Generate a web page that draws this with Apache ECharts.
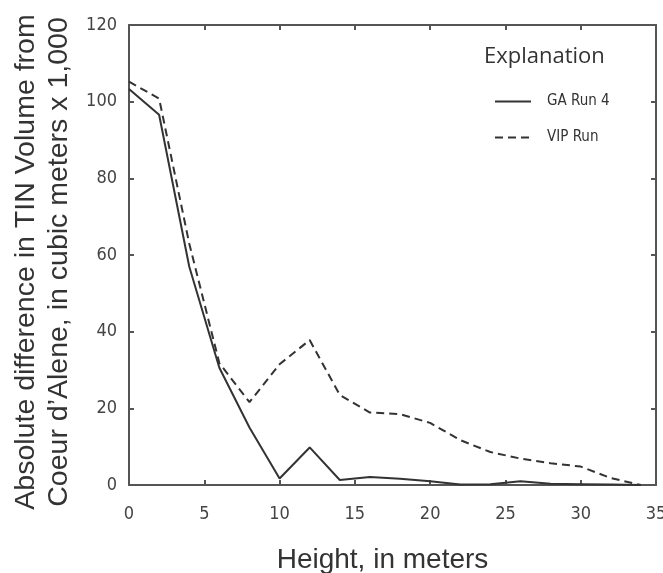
<!DOCTYPE html>
<html>
<head>
<meta charset="utf-8">
<script src="https://cdn.jsdelivr.net/npm/echarts@6/dist/echarts.min.js"></script>
<style>html,body{margin:0;padding:0;background:#fff}#c{width:663px;height:573px}</style>
</head>
<body>
<div id="c"></div>
<script>
var heights = [0, 2, 4, 6, 8, 10, 12, 14, 16, 18, 20, 22, 24, 26, 28, 30, 32, 34];
var gaRun4 = [103.3, 96.6, 57, 30.6, 15, 1.7, 9.8, 1.3, 2.1, 1.6, 1.0, 0.1, 0.2, 1.0, 0.3, 0.2, 0.1, 0];
var vipRun = [105.2, 100.8, 63, 31.8, 21.6, 31.5, 37.8, 23.5, 18.9, 18.5, 16.2, 11.7, 8.6, 6.9, 5.7, 4.8, 1.8, 0];
var seriesNames = ['GA Run 4', 'VIP Run'];
var xTicks = [0, 5, 10, 15, 20, 25, 30, 35];
var yTicks = [0, 20, 40, 60, 80, 100, 120];

var narrow = "'Liberation Sans Narrow', 'DejaVu Sans Condensed', 'Liberation Sans', sans-serif";
var sans = "'Liberation Sans', Arial, sans-serif";

function pairs(xs, ys) { return xs.map(function (x, i) { return [x, ys[i]]; }); }

var chart = echarts.init(document.getElementById('c'), null, {renderer: 'canvas'});
var axisLine = {show: true, onZero: false, lineStyle: {color: '#555', width: 2}};
var tick = {show: true, inside: true, length: 5, lineStyle: {color: '#555', width: 2}};

chart.setOption({
  animation: false,
  backgroundColor: '#fff',
  grid: {left: 129, top: 25, right: 7, bottom: 88, containLabel: false, outerBoundsMode: 'none'},
  title: {
    text: 'Explanation', left: 484, top: 46, padding: 0,
    textStyle: {fontFamily: "'Open Sans', sans-serif", fontSize: 22, fontWeight: 'normal', color: '#333'}
  },
  legend: {
    orient: 'vertical', left: 494, top: 94, padding: 0,
    itemWidth: 36, itemHeight: 14, itemGap: 21,
    data: seriesNames,
    itemStyle: {opacity: 0},
    textStyle: {fontFamily: narrow, fontSize: 15, color: '#333', padding: [0, 0, 0, 11]}
  },
  xAxis: [{
    type: 'value', min: xTicks[0], max: xTicks[xTicks.length - 1], interval: 5,
    name: 'Height, in meters', nameLocation: 'middle', nameGap: 61,
    nameTextStyle: {fontFamily: sans, fontSize: 28, color: '#333', padding: [0, 20, 0, 0]},
    axisLine: axisLine, axisTick: tick, splitLine: {show: false},
    axisLabel: {margin: 20, fontFamily: narrow, fontSize: 18, color: '#444'}
  }, {
    type: 'value', position: 'top', min: xTicks[0], max: xTicks[xTicks.length - 1], interval: 5,
    axisLine: axisLine, axisTick: tick, splitLine: {show: false}, axisLabel: {show: false}
  }],
  yAxis: [{
    type: 'value', min: yTicks[0], max: yTicks[yTicks.length - 1], interval: 20,
    name: 'Absolute difference in TIN Volume from\nCoeur d\u2019Alene, in cubic meters x 1,000',
    nameLocation: 'middle', nameRotate: 90, nameGap: 49,
    nameTextStyle: {fontFamily: sans, fontSize: 28.5, lineHeight: 33, color: '#333', padding: [0, 14, 0, 0]},
    axisLine: axisLine, axisTick: tick, splitLine: {show: false},
    axisLabel: {margin: 12, fontFamily: narrow, fontSize: 18, color: '#444'}
  }, {
    type: 'value', position: 'right', min: yTicks[0], max: yTicks[yTicks.length - 1], interval: 20,
    axisLine: axisLine, axisTick: tick, splitLine: {show: false}, axisLabel: {show: false}
  }],
  series: [{
    name: seriesNames[0], type: 'line', symbol: 'none', data: pairs(heights, gaRun4),
    lineStyle: {color: '#333', width: 2, type: 'solid'}, itemStyle: {color: '#333'}
  }, {
    name: seriesNames[1], type: 'line', symbol: 'none', data: pairs(heights, vipRun),
    lineStyle: {color: '#333', width: 2, type: [8, 5]}, itemStyle: {color: '#333'}
  }]
});
</script>
</body>
</html>
